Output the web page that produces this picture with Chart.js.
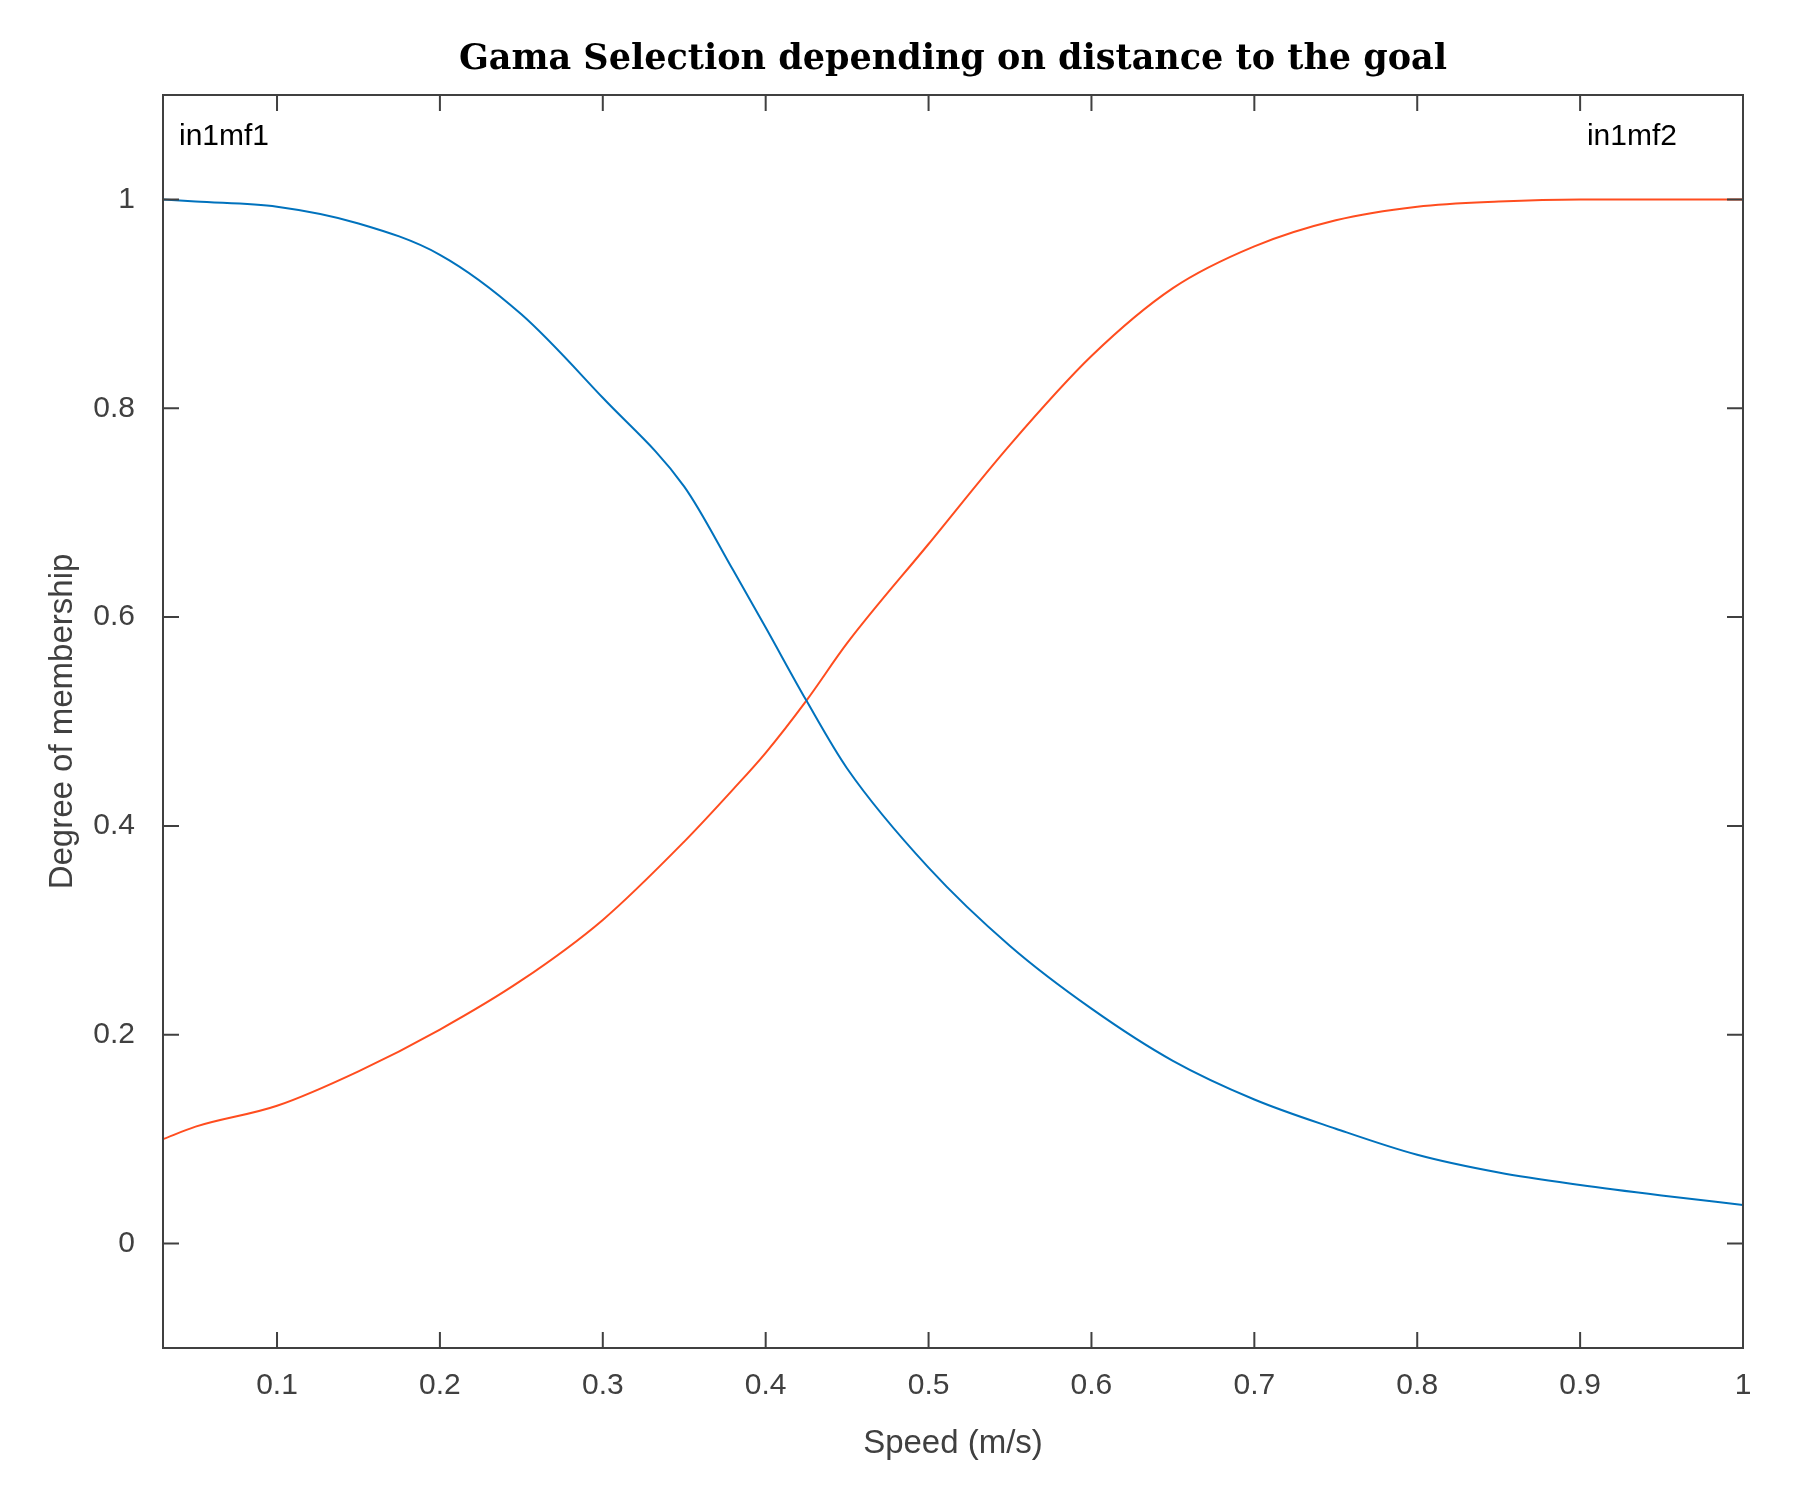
<!DOCTYPE html>
<html>
<head>
<meta charset="utf-8">
<script src="https://cdn.jsdelivr.net/npm/chart.js@4"></script>
<style>
  body { margin: 0; background: #fff; }
  #wrap { width: 1799px; height: 1494px; }
</style>
</head>
<body>
<div id="wrap"><canvas id="chart" width="1799" height="1494"></canvas></div>
<script>
// values
const speed = [0.03, 0.05, 0.1, 0.15, 0.2, 0.25, 0.3, 0.35, 0.38, 0.4, 0.425, 0.45, 0.5, 0.55, 0.6, 0.65, 0.7, 0.75, 0.8, 0.85, 0.9, 0.95, 1.0];
const in1mf1 = [1.0, 0.998, 0.993, 0.977, 0.947, 0.89, 0.81, 0.725, 0.645, 0.59, 0.52, 0.455, 0.36, 0.285, 0.225, 0.175, 0.138, 0.11, 0.085, 0.068, 0.056, 0.046, 0.037];
const in1mf2 = [0.10, 0.112, 0.132, 0.165, 0.205, 0.252, 0.31, 0.385, 0.435, 0.47, 0.52, 0.575, 0.67, 0.765, 0.85, 0.915, 0.955, 0.98, 0.993, 0.998, 1.0, 1.0, 1.0];
const xTicks = [0.1, 0.2, 0.3, 0.4, 0.5, 0.6, 0.7, 0.8, 0.9, 1];
const yTicks = [0, 0.2, 0.4, 0.6, 0.8, 1];

const axisColor = "#404040";
const tickFont = { family: "Arial, Liberation Sans, sans-serif", size: 30 };

// frame, inward ticks, titles, curve labels
const decor = {
    id: "decor",
    afterDraw(c) {
        const ctx = c.ctx, a = c.chartArea;
        const x = c.scales.x, y = c.scales.y;
        ctx.save();
        ctx.strokeStyle = axisColor;
        ctx.lineWidth = 2;
        ctx.strokeRect(a.left, a.top, a.right - a.left, a.bottom - a.top);
        ctx.beginPath();
        xTicks.forEach(v => {
            const px = x.getPixelForValue(v);
            ctx.moveTo(px, a.bottom); ctx.lineTo(px, a.bottom - 16);
            ctx.moveTo(px, a.top); ctx.lineTo(px, a.top + 16);
        });
        yTicks.forEach(v => {
            const py = y.getPixelForValue(v);
            ctx.moveTo(a.left, py); ctx.lineTo(a.left + 16, py);
            ctx.moveTo(a.right, py); ctx.lineTo(a.right - 16, py);
        });
        ctx.stroke();

        ctx.fillStyle = "#000";
        ctx.textAlign = "center";
        ctx.textBaseline = "middle";
        ctx.font = "bold 35px 'DejaVu Serif', 'Liberation Serif', serif";
        ctx.fillText("Gama Selection depending on distance to the goal", (a.left + a.right) / 2, 60);

        ctx.fillStyle = axisColor;
        ctx.font = "33px Arial, 'Liberation Sans', sans-serif";
        ctx.fillText("Speed (m/s)", (a.left + a.right) / 2, 1444);
        ctx.translate(63, (a.top + a.bottom) / 2);
        ctx.rotate(-Math.PI / 2);
        ctx.fillText("Degree of membership", 0, 0);
        ctx.restore();

        ctx.save();
        ctx.fillStyle = "#000";
        ctx.font = "30px Arial, 'Liberation Sans', sans-serif";
        ctx.textBaseline = "middle";
        ctx.textAlign = "left";
        ctx.fillText("in1mf1", a.left + 16, y.getPixelForValue(1.06));
        ctx.textAlign = "right";
        ctx.fillText("in1mf2", a.right - 66, y.getPixelForValue(1.06));
        ctx.restore();
    }
};

new Chart(document.querySelector("#chart").getContext("2d"), {
    type: "line",
    data: {
        datasets: [
            {
                label: "in1mf1",
                data: speed.map((s, i) => ({ x: s, y: in1mf1[i] })),
                borderColor: "#0072bd",
                borderWidth: 2,
                pointRadius: 0,
                cubicInterpolationMode: "monotone",
            },
            {
                label: "in1mf2",
                data: speed.map((s, i) => ({ x: s, y: in1mf2[i] })),
                borderColor: "#ff4d1f",
                borderWidth: 2,
                pointRadius: 0,
                cubicInterpolationMode: "monotone",
            },
        ],
    },
    options: {
        responsive: false,
        animation: false,
        devicePixelRatio: 1,
        layout: { padding: { top: 95, right: 56, left: 0, bottom: 0 } },
        plugins: { legend: { display: false }, tooltip: { enabled: false } },
        scales: {
            x: {
                type: "linear",
                min: 0.03,
                max: 1,
                afterBuildTicks: s => { s.ticks = xTicks.map(v => ({ value: v })); },
                afterFit: s => { s.height = 146; },
                grid: { display: false },
                border: { display: false },
                ticks: { color: axisColor, font: tickFont, padding: 12, maxRotation: 0,
                         callback: v => String(v) },
            },
            y: {
                min: -0.1,
                max: 1.1,
                afterBuildTicks: s => { s.ticks = yTicks.map(v => ({ value: v })); },
                afterFit: s => { s.width = 163; },
                grid: { display: false },
                border: { display: false },
                ticks: { color: axisColor, font: tickFont, padding: 20,
                         callback: v => String(v) },
            },
        },
    },
    plugins: [decor],
});
</script>
</body>
</html>
